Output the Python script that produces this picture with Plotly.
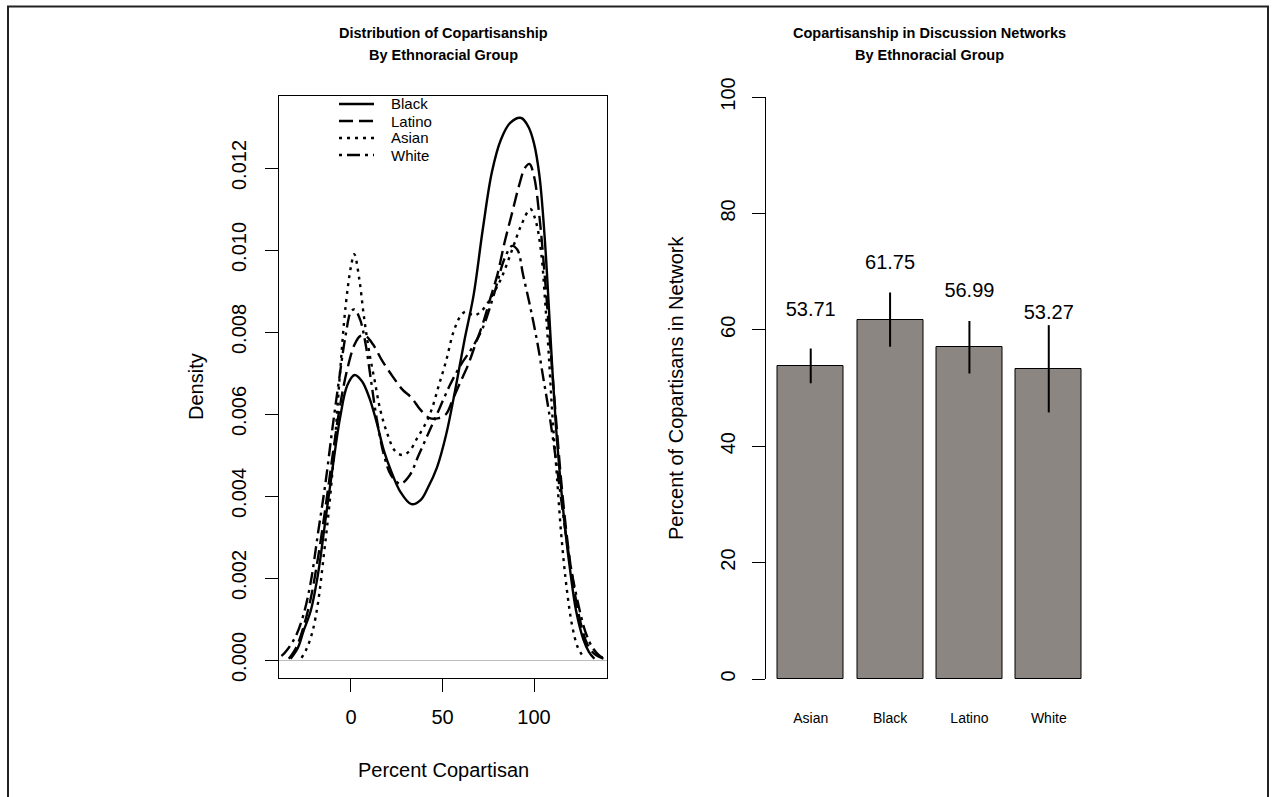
import plotly.graph_objects as go

# ---------------- data ----------------
# Left panel: density of percent copartisan by group
black_x = [-33, -29, -26, -22, -18, -14, -10, -6, -2, 2, 6, 10, 14, 18, 22, 27, 33, 38, 42, 47,
           52, 57, 62, 67, 72, 77, 82, 87, 93, 97, 100, 103, 106, 108, 110, 112, 114, 117, 120,
           123, 127, 130, 133]
black_y = [0.00003, 0.0003, 0.0007, 0.0012, 0.0021, 0.0034, 0.0047, 0.0059, 0.0067, 0.00695,
           0.0068, 0.0064, 0.0058, 0.0051, 0.0046, 0.0041, 0.0038, 0.0039, 0.0042, 0.0047,
           0.0055, 0.0066, 0.0078, 0.0089, 0.0105, 0.0119, 0.0127, 0.0131, 0.01322, 0.0130,
           0.0126, 0.0118, 0.0102, 0.0087, 0.0071, 0.0057, 0.0046, 0.0032, 0.0021, 0.0012,
           0.0005, 0.0002, 0.00003]

latino_x = [-34, -30, -26, -22, -18, -14, -10, -6, -2, 2, 5, 8, 12, 17, 23, 28, 33, 38, 43, 48,
            52, 56, 60, 64, 68, 72, 76, 80, 84, 88, 92, 95, 97.5, 100, 103, 106, 109, 112, 115,
            118, 121, 125, 129, 133, 138]
latino_y = [0.00003, 0.0003, 0.0008, 0.0015, 0.0025, 0.0037, 0.0050, 0.0062, 0.0071, 0.0077,
            0.0079, 0.0079, 0.0077, 0.0073, 0.0069, 0.0066, 0.0064, 0.0061, 0.0059, 0.0059,
            0.0060, 0.0064, 0.0068, 0.0072, 0.0077, 0.0082, 0.0088, 0.0094, 0.0102, 0.0109,
            0.0116, 0.0120, 0.0121, 0.0118, 0.0108, 0.0093, 0.0076, 0.0059, 0.0043, 0.0030,
            0.0020, 0.0010, 0.0004, 0.00015, 0.00003]

asian_x = [-27, -24, -21, -18, -15, -12, -9, -6, -3, 0, 1.8, 4.5, 7, 10, 13, 16, 20, 24, 28, 32,
           36, 40, 44, 48, 52, 56, 60, 63, 67, 71, 76, 82, 88, 93, 98, 101, 104, 106, 108, 110,
           112.5, 115, 118, 121, 124, 127]
asian_y = [0.00005, 0.0003, 0.0007, 0.0014, 0.0025, 0.0037, 0.0052, 0.0070, 0.0086, 0.0096,
           0.0099, 0.0093, 0.0084, 0.0075, 0.0068, 0.0061, 0.0055, 0.0051, 0.0050, 0.0051,
           0.0054, 0.0057, 0.0061, 0.0067, 0.0073, 0.0080, 0.0084, 0.0085, 0.0084, 0.0085,
           0.0088, 0.0093, 0.0100, 0.0106, 0.0110, 0.0107, 0.0099, 0.0088, 0.0075, 0.0060,
           0.0045, 0.0030, 0.0017, 0.0008, 0.0003, 0.00008]

white_x = [-42, -38, -34, -30, -26, -22, -18, -14, -10, -6, -3, 0, 2, 5, 8, 11, 14, 18, 22, 27,
           32, 37, 42, 48, 54, 60, 66, 72, 78, 84, 88, 91, 94, 98, 102, 105, 108, 111, 114, 117,
           120, 124, 128, 132, 136, 141]
white_y = [0.00002, 0.0001, 0.0003, 0.0006, 0.0011, 0.0019, 0.0031, 0.0043, 0.0057, 0.0070,
           0.0079, 0.0085, 0.00855, 0.0083, 0.0077, 0.0068, 0.0059, 0.0050, 0.0045, 0.0043,
           0.0045, 0.0050, 0.0055, 0.0061, 0.0067, 0.0072, 0.0076, 0.0081, 0.0089, 0.0098,
           0.0101, 0.0100, 0.0094, 0.0086, 0.0077, 0.0069, 0.0061, 0.0052, 0.0042, 0.0032,
           0.0023, 0.0014, 0.0007, 0.0003, 0.0001, 0.00002]

density_ticks = [0.000, 0.002, 0.004, 0.006, 0.008, 0.010, 0.012]
density_ticktext = ["0.000", "0.002", "0.004", "0.006", "0.008", "0.010", "0.012"]
pct_ticks = [0, 50, 100]

# Right panel: percent of copartisans in discussion network
groups = ["Asian", "Black", "Latino", "White"]
network_pct = [53.71, 61.75, 56.99, 53.27]
ci_low = [50.8, 57.1, 52.5, 45.8]
ci_high = [56.8, 66.4, 61.5, 60.8]
bar_ticks = [0, 20, 40, 60, 80, 100]

# ---------------- figure ----------------
W, H = 1272, 797


def fx(p):
    return p / W


def fy(p):
    return 1 - p / H


FONT = "Liberation Sans, Arial, Helvetica, sans-serif"
LW = 2.4

fig = go.Figure()

series = [
    ("Black", black_x, black_y, "solid"),
    ("Latino", latino_x, latino_y, "14px,6px"),
    ("Asian", asian_x, asian_y, "3px,5px"),
    ("White", white_x, white_y, "3px,5px,13px,5px"),
]
for name, xs, ys, dash in series:
    fig.add_trace(go.Scatter(
        x=xs, y=ys, mode="lines", name=name,
        line=dict(color="black", width=LW, dash=dash, shape="spline", smoothing=1.0),
        xaxis="x", yaxis="y", hoverinfo="x+y+name", showlegend=False))

fig.add_trace(go.Bar(
    x=groups, y=network_pct, width=1 / 1.2,
    marker=dict(color="#8B8682", line=dict(color="black", width=1)),
    error_y=dict(type="data", symmetric=False,
                 array=[h - m for h, m in zip(ci_high, network_pct)],
                 arrayminus=[m - l for m, l in zip(network_pct, ci_low)],
                 color="black", thickness=2, width=0),
    xaxis="x2", yaxis="y2", showlegend=False))

fig.add_trace(go.Scatter(
    x=groups, y=[m + 9.5 for m in network_pct], mode="text",
    text=[f"{m:.2f}" for m in network_pct],
    textfont=dict(size=20, color="black", family=FONT),
    xaxis="x2", yaxis="y2", showlegend=False, cliponaxis=False, hoverinfo="skip"))

axis_common = dict(showgrid=False, ticks="outside", ticklen=13, tickwidth=1, tickcolor="black",
                   linecolor="black", linewidth=1, tickfont=dict(size=20, color="black", family=FONT))

fig.update_layout(
    width=W, height=H,
    margin=dict(l=0, r=0, t=0, b=0, autoexpand=False),
    paper_bgcolor="white", plot_bgcolor="white",
    font=dict(family=FONT, color="black"),
    xaxis=dict(domain=[fx(279), fx(607)], range=[-39.34, 139.89], tickvals=pct_ticks,
               showline=True, mirror=True, zeroline=False, anchor="y",
               ticklabelstandoff=8, **axis_common),
    yaxis=dict(domain=[fy(678), fy(96)], range=[-0.000439, 0.013756], tickvals=density_ticks,
               ticktext=density_ticktext, tickangle=-90, showline=True, mirror=True,
               zeroline=True, zerolinecolor="#BEBEBE", zerolinewidth=1, anchor="x",
               ticklabelstandoff=11, **axis_common),
    xaxis2=dict(domain=[fx(765.5), fx(1094)], range=[-0.57, 3.57], type="category",
                showline=False, showgrid=False, ticks="", zeroline=False, anchor="y2",
                tickfont=dict(size=14, color="black", family=FONT), ticklabelstandoff=29),
    yaxis2=dict(domain=[fy(679), fy(97)], range=[0, 100], tickvals=bar_ticks,
                tickangle=-90, showline=True, zeroline=False, anchor="x2",
                ticklabelstandoff=9, **axis_common),
    bargap=0,
    showlegend=False,
)

annotations = [
    dict(text="<b>Distribution of Copartisanship</b>", x=fx(443), y=fy(33)),
    dict(text="<b>By Ethnoracial Group</b>", x=fx(443), y=fy(55)),
    dict(text="<b>Copartisanship in Discussion Networks</b>", x=fx(929.5), y=fy(33)),
    dict(text="<b>By Ethnoracial Group</b>", x=fx(929.5), y=fy(55)),
]
for a in annotations:
    a.update(xref="paper", yref="paper", showarrow=False, xanchor="center", yanchor="middle",
             font=dict(size=14.5, family=FONT, color="black"))
fig.update_layout(annotations=annotations)

fig.add_annotation(text="Density", x=fx(196), y=fy(387), xref="paper", yref="paper",
                   showarrow=False, textangle=-90, font=dict(size=20, family=FONT),
                   xanchor="center", yanchor="middle")
fig.add_annotation(text="Percent Copartisan", x=fx(443), y=fy(770), xref="paper", yref="paper",
                   showarrow=False, font=dict(size=20, family=FONT),
                   xanchor="center", yanchor="middle")
fig.add_annotation(text="Percent of Copartisans in Network", x=fx(676), y=fy(388),
                   xref="paper", yref="paper", showarrow=False, textangle=-90,
                   font=dict(size=20, family=FONT), xanchor="center", yanchor="middle")

# legend (drawn as in the original: no box, line samples and labels)
legend_rows = [104, 121, 138, 155]
for (name, _, _, dash), ry in zip(series, legend_rows):
    fig.add_shape(type="line", xref="paper", yref="paper", x0=fx(339), x1=fx(374),
                  y0=fy(ry), y1=fy(ry), line=dict(color="black", width=LW, dash=dash))
    fig.add_annotation(text=name, x=fx(389), y=fy(ry), xref="paper", yref="paper",
                       showarrow=False, xanchor="left", yanchor="middle",
                       font=dict(size=15, family=FONT, color="black"))

# outer frame of the figure
fig.add_shape(type="rect", xref="paper", yref="paper", x0=fx(8), x1=fx(1268), y0=fy(810),
              y1=fy(6.5), line=dict(color="#222222", width=2), fillcolor="rgba(0,0,0,0)",
              layer="above")

fig.write_html("out.html", config={"displayModeBar": False},
               post_script="document.body.style.margin='0px';document.body.style.overflow='hidden';")
